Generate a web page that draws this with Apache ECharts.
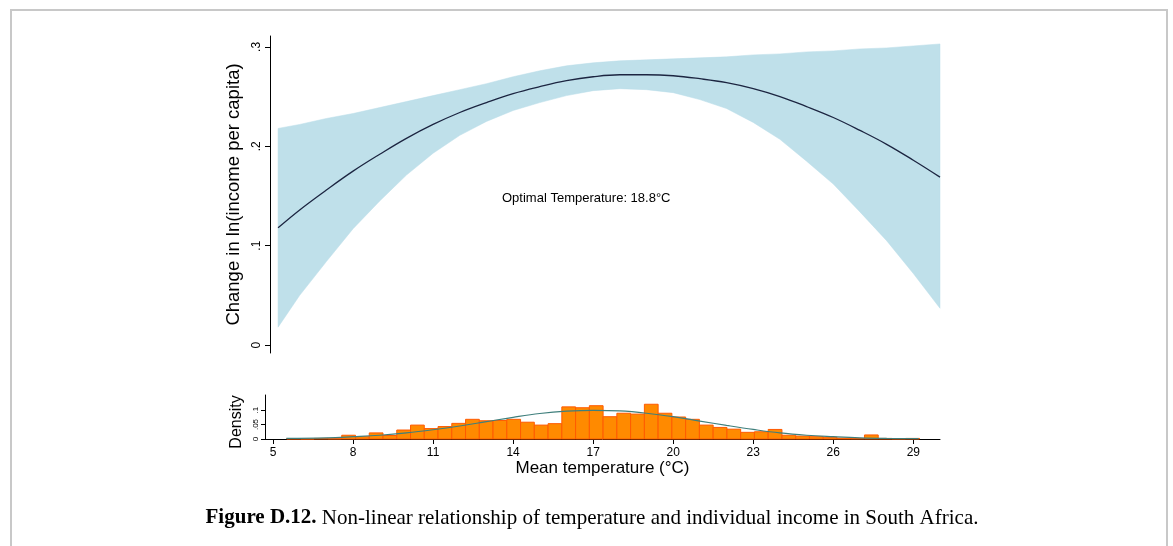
<!DOCTYPE html>
<html>
<head>
<meta charset="utf-8">
<script src="https://cdn.jsdelivr.net/npm/echarts@6/dist/echarts.min.js"></script>
<style>
  html, body { margin: 0; padding: 0; background: #ffffff; }
  #chart { width: 1173px; height: 546px; }
</style>
</head>
<body>
<div id="chart"></div>
<script>
// Temperature grid for the fitted income effect and its confidence band
const temps    = [5.19, 6, 7, 8, 9, 10, 11, 12, 13, 14, 15, 16, 17, 18, 19, 20, 21, 22, 23, 24, 25, 26, 27, 28, 29, 30.0];
const fitValues = [0.118, 0.136, 0.156, 0.175, 0.192, 0.208, 0.222, 0.234, 0.244, 0.253, 0.260, 0.266, 0.270, 0.272, 0.272, 0.271, 0.268, 0.264, 0.258, 0.250, 0.240, 0.229, 0.216, 0.202, 0.186, 0.169];
const upperCI   = [0.218, 0.222, 0.228, 0.233, 0.239, 0.245, 0.251, 0.257, 0.263, 0.270, 0.276, 0.281, 0.284, 0.286, 0.287, 0.288, 0.289, 0.290, 0.292, 0.293, 0.295, 0.296, 0.298, 0.299, 0.301, 0.303];
const lowerCI   = [0.018, 0.050, 0.084, 0.117, 0.145, 0.171, 0.193, 0.211, 0.225, 0.236, 0.244, 0.251, 0.256, 0.258, 0.257, 0.254, 0.247, 0.238, 0.224, 0.207, 0.185, 0.162, 0.134, 0.105, 0.072, 0.037];

// Histogram of mean temperature (density per bin)
const histStart = 5.514;
const binWidth = 0.5156;
const binDensity = [0.001, 0.000, 0.002, 0.001, 0.013, 0.008, 0.021, 0.012, 0.031, 0.048,
                    0.036, 0.043, 0.054, 0.068, 0.063, 0.064, 0.068, 0.058, 0.048, 0.053,
                    0.111, 0.108, 0.115, 0.077, 0.089, 0.086, 0.120, 0.089, 0.076, 0.068,
                    0.048, 0.040, 0.034, 0.023, 0.025, 0.033, 0.013, 0.010, 0.008, 0.006,
                    0.003, 0.002, 0.014, 0.002, 0.001, 0.002];

// Normal density overlay
const normalTemps   = [5.5, 7, 8, 9, 10, 11, 12, 13, 14, 15, 16, 17, 18, 19, 20, 21, 22, 23, 24, 25, 26, 27, 28, 29.2];
const normalDensity = [0.002, 0.004, 0.008, 0.013, 0.021, 0.032, 0.045, 0.060, 0.075, 0.088, 0.096, 0.099, 0.097, 0.089, 0.077, 0.062, 0.047, 0.033, 0.021, 0.013, 0.008, 0.004, 0.002, 0.001];

// Tick labels
const tempTicks = [5, 8, 11, 14, 17, 20, 23, 26, 29];
const effectTicks = [0, 0.1, 0.2, 0.3];
const densityTicks = [0, 0.05, 0.1];

const FONT = '"Liberation Sans", Arial, Helvetica, sans-serif';
const SERIF = '"Liberation Serif", "Times New Roman", serif';
const stataNum = v => (v === 0 ? '0' : String(+v.toFixed(3)).replace(/^0\./, '.'));

const chart = echarts.init(document.getElementById('chart'), null, { renderer: 'canvas' });

const bandPoints = (api) => {
  const up = temps.map((t, i) => api.coord([t, upperCI[i]]));
  const lo = temps.map((t, i) => api.coord([t, lowerCI[i]])).reverse();
  return up.concat(lo);
};

chart.setOption({
  backgroundColor: '#ffffff',
  animation: false,
  textStyle: { fontFamily: FONT, color: '#000' },
  grid: [
    { left: 270, right: 233, top: 36, bottom: 193 },
    { left: 265, right: 233, top: 395, bottom: 107 }
  ],
  xAxis: [
    {
      gridIndex: 0, type: 'value', min: 4.887, max: 30,
      show: false
    },
    {
      gridIndex: 1, type: 'value', min: 4.7, max: 30,
      name: 'Mean temperature (°C)', nameLocation: 'middle', nameGap: 21,
      nameTextStyle: { fontSize: 17, fontFamily: FONT, color: '#000' },
      axisLine: { show: true, onZero: false, lineStyle: { color: '#000', width: 1 } },
      axisTick: { show: true, length: 5, customValues: tempTicks, lineStyle: { color: '#000' } },
      axisLabel: { customValues: tempTicks, fontSize: 12, margin: 8, color: '#000', fontFamily: FONT },
      splitLine: { show: false }
    }
  ],
  yAxis: [
    {
      gridIndex: 0, type: 'value', min: -0.008, max: 0.311,
      name: 'Change in ln(income per capita)', nameLocation: 'middle', nameGap: 21, nameRotate: 90,
      nameTextStyle: { fontSize: 18.5, fontFamily: FONT, color: '#000' },
      axisLine: { show: true, onZero: false, lineStyle: { color: '#000', width: 1 } },
      axisTick: { show: true, length: 5, customValues: effectTicks, lineStyle: { color: '#000' } },
      axisLabel: { customValues: effectTicks, rotate: 90, fontSize: 12, margin: 7, color: '#000', fontFamily: FONT, formatter: stataNum },
      splitLine: { show: false }
    },
    {
      gridIndex: 1, type: 'value', min: 0, max: 0.152,
      name: 'Density', nameLocation: 'middle', nameGap: 20, nameRotate: 90,
      nameTextStyle: { fontSize: 16, fontFamily: FONT, color: '#000', padding: [0, 10, 0, 0] },
      axisLine: { show: true, onZero: false, lineStyle: { color: '#000', width: 1 } },
      axisTick: { show: true, length: 4, customValues: densityTicks, lineStyle: { color: '#000' } },
      axisLabel: { customValues: densityTicks, rotate: 90, fontSize: 8, margin: 5, color: '#000', fontFamily: FONT, formatter: stataNum },
      splitLine: { show: false }
    }
  ],
  series: [
    {
      // confidence band
      type: 'custom', xAxisIndex: 0, yAxisIndex: 0, silent: true, z: 1,
      data: [[temps[0], lowerCI[0]]],
      renderItem: (params, api) => ({
        type: 'polygon',
        shape: { points: bandPoints(api) },
        style: { fill: '#bfe0ea', stroke: '#b8dce8', lineWidth: 0.5 }
      })
    },
    {
      // fitted effect
      type: 'line', xAxisIndex: 0, yAxisIndex: 0, z: 3,
      data: temps.map((t, i) => [t, fitValues[i]]),
      smooth: 0.4, showSymbol: false,
      lineStyle: { color: '#1c2541', width: 1.3 }
    },
    {
      // histogram bins
      type: 'custom', xAxisIndex: 1, yAxisIndex: 1, z: 2,
      data: binDensity.map((d, i) => [histStart + i * binWidth, histStart + (i + 1) * binWidth, d]),
      encode: { x: [0, 1], y: 2 },
      renderItem: (params, api) => {
        const p0 = api.coord([api.value(0), api.value(2)]);
        const p1 = api.coord([api.value(1), 0]);
        return {
          type: 'rect',
          shape: { x: p0[0], y: p0[1], width: p1[0] - p0[0], height: p1[1] - p0[1] },
          style: { fill: '#ff8a00', stroke: '#ff5a00', lineWidth: 1 }
        };
      }
    },
    {
      // normal density overlay
      type: 'line', xAxisIndex: 1, yAxisIndex: 1, z: 4,
      data: normalTemps.map((t, i) => [t, normalDensity[i]]),
      smooth: 0.4, showSymbol: false,
      lineStyle: { color: '#3f7f7c', width: 1.2 }
    }
  ],
  graphic: [
    {
      type: 'rect', silent: true, z: 0,
      shape: { x: 11, y: 10, width: 1156, height: 600 },
      style: { fill: 'none', stroke: '#c8c8c8', lineWidth: 2 }
    },
    {
      type: 'text', x: 502, y: 198, z: 10,
      style: { text: 'Optimal Temperature: 18.8°C', font: '13px ' + FONT, fill: '#000', verticalAlign: 'middle' }
    },
    {
      type: 'text', x: 592, y: 518, z: 10,
      style: {
        text: '{b|Figure D.12.} Non-linear relationship of temperature and individual income in South Africa.',
        font: '21px ' + SERIF,
        fill: '#000', align: 'center', verticalAlign: 'middle',
        rich: { b: { fontWeight: 'bold', fontSize: 21, fontFamily: SERIF } }
      }
    }
  ]
});
</script>
</body>
</html>
